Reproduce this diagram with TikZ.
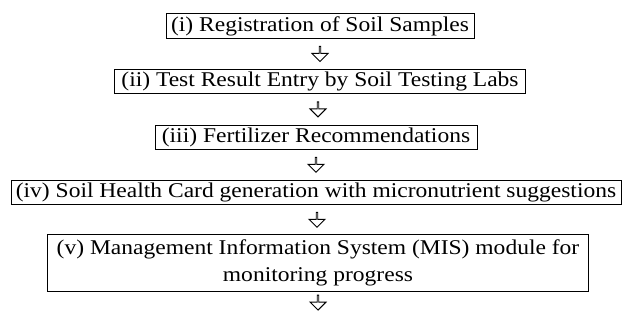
\documentclass[tikz,border=0pt]{standalone}
\usepackage{fontspec}
\setmainfont[FakeStretch=1.12]{Liberation Serif}
\usetikzlibrary{shapes.arrows}
\begin{document}
\begin{tikzpicture}[x=1pt,y=1pt,
		stepbox/.style={draw, line width=0.7pt, inner xsep=5pt, inner ysep=2.5pt,
			font=\fontsize{21}{27}\selectfont, align=center},
		downarrow/.style={draw, line width=0.9pt, single arrow, rotate=-90,
			minimum height=15pt, minimum width=16pt, inner sep=0pt,
			single arrow head extend=4.5pt, single arrow tip angle=90}]
		
		\useasboundingbox (0,0) rectangle (624,320);
		
		% steps
		\node [stepbox] (reg) at (320,294) {(i) Registration of Soil Samples};
		
		\node [stepbox, inner xsep=7pt] (entry) at (320,239) {(ii) Test Result Entry by Soil Testing Labs};
		
		\node [stepbox, inner xsep=7pt] (fert) at (316,183) {(iii) Fertilizer Recommendations};
		
		\node [stepbox] (card) at (316,128) {(iv) Soil Health Card generation with micronutrient suggestions};
		
		\node [stepbox, inner xsep=9pt, inner ysep=5pt] (mis) at (318,57) {(v) Management Information System (MIS) module for\\ monitoring progress};
		
		\coordinate (end) at (318,7);
		
		% arrows
		\path (reg.south) -- node [downarrow] (a1) {} (entry.north);
		\path (entry.south) -- node [downarrow] (a2) {} (fert.north);
		\path (fert.south) -- node [downarrow] (a3) {} (card.north);
		\path (card.south) -- node [downarrow] (a4) {} (mis.north);
		\path (mis.south) -- node [downarrow] (a5) {} (end);
		
	\end{tikzpicture}
\end{document}
